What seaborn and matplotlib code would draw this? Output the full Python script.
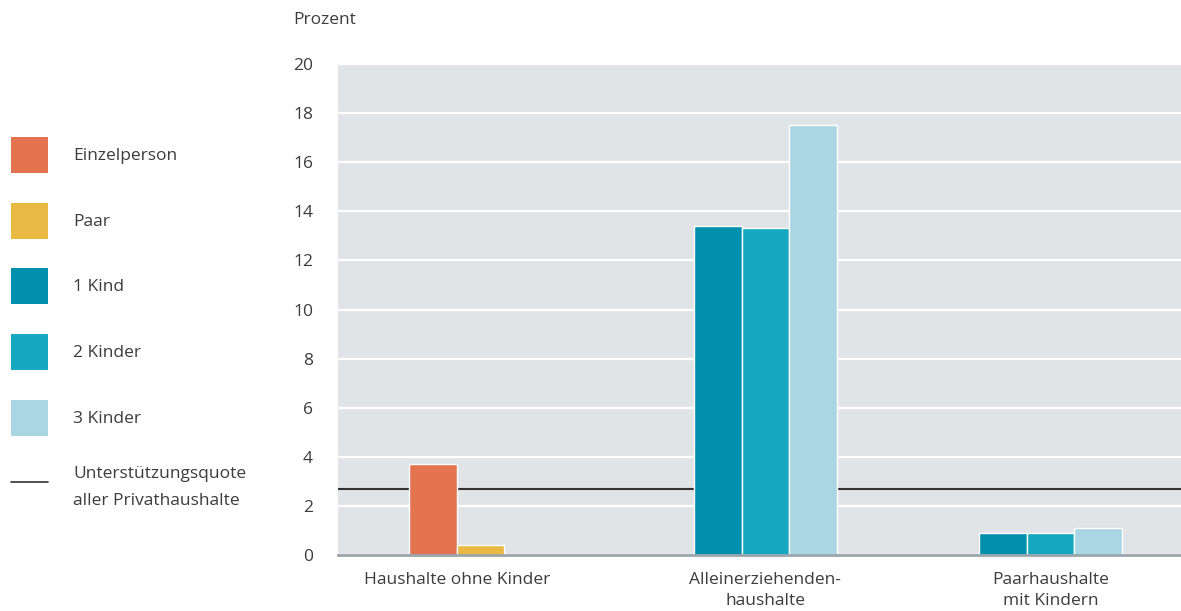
import numpy as np
import pandas as pd
import matplotlib
matplotlib.use("Agg")
import matplotlib.pyplot as plt
from matplotlib.patches import Patch
from matplotlib.lines import Line2D
import seaborn as sns

# Household groups (x axis) and their bar series
groups = ["Haushalte ohne Kinder", "Alleinerziehenden-\nhaushalte", "Paarhaushalte\nmit Kindern"]
series_no_children = ["Einzelperson", "Paar"]
series_children = ["1 Kind", "2 Kinder", "3 Kinder"]

values_no_children = [3.7, 0.4]
values_single_parent = [13.4, 13.3, 17.5]
values_couple_parent = [0.9, 0.9, 1.1]

overall_rate = 2.7
overall_label = "Unterstützungsquote\naller Privathaushalte"

series_colors = {
    "Einzelperson": "#e4744f",
    "Paar": "#e9b943",
    "1 Kind": "#0090ae",
    "2 Kinder": "#16a7c1",
    "3 Kinder": "#a9d6e2",
}

yticks = [0, 2, 4, 6, 8, 10, 12, 14, 16, 18, 20]

# Long-form table: each bar takes a slot inside its group
rows = []
for s, (name, v) in enumerate(zip(series_no_children, values_no_children)):
    rows.append((groups[0], str(s), name, v))
for g, vals in ((groups[1], values_single_parent), (groups[2], values_couple_parent)):
    for s, (name, v) in enumerate(zip(series_children, vals)):
        rows.append((g, str(s), name, v))
df = pd.DataFrame(rows, columns=["group", "slot", "series", "value"])
slots = ["0", "1", "2"]

sns.set_theme(style="white")
plt.rcParams["font.family"] = ["Open Sans", "DejaVu Sans"]
text_color = "#3c3c3c"
fs = 12.5

fig = plt.figure(figsize=(11.81, 6.11), dpi=100)
ax = fig.add_axes([338 / 1181, 1 - 555 / 611, 1 - 338 / 1181, (555 - 64) / 611])
ax.set_facecolor("#e1e4e7")

sns.barplot(data=df, x="group", y="value", hue="slot", order=groups,
            hue_order=slots, dodge=True, width=0.5, legend=False,
            edgecolor="white", linewidth=1.0, saturation=1, ax=ax, zorder=3)

# Colour each bar by its series
for slot, container in zip(slots, ax.containers):
    sub = df[df["slot"] == slot].set_index("group").reindex(groups).dropna()
    for bar, name in zip(container, sub["series"]):
        bar.set_facecolor(series_colors[name])

ax.axhline(overall_rate, color="#333333", lw=1.5, zorder=2)

ax.set_ylim(0, 20)
ax.set_xlim(-0.5, 2.458)
ax.set_yticks(yticks)
ax.set_yticklabels([str(t) for t in yticks])
ax.yaxis.grid(True, color="white", lw=1.6, zorder=0)
ax.set_axisbelow(True)

# Group labels centred under the bars actually present in each group
centers = {}
for container in ax.containers:
    for bar in container:
        if np.isnan(bar.get_height()):
            continue
        gi = int(round(bar.get_x() + bar.get_width() / 2))
        centers.setdefault(gi, []).append(bar.get_x() + bar.get_width() / 2)
label_pos = [np.mean(centers[i]) for i in range(len(groups))]
ax.set_xticks(label_pos)
ax.set_xticklabels(groups, linespacing=1.45)

ax.set_xlabel("")
ax.set_ylabel("")
ax.tick_params(axis="both", length=0, labelsize=fs, colors=text_color)
ax.tick_params(axis="y", pad=18)
ax.tick_params(axis="x", pad=12)

for side in ["top", "right", "left"]:
    ax.spines[side].set_visible(False)
ax.spines["bottom"].set_color("#9aa5ad")
ax.spines["bottom"].set_linewidth(2)
ax.spines["bottom"].set_zorder(4)

fig.text(293 / 1181, 1 - 20 / 611, "Prozent", fontsize=fs, color=text_color,
         va="center", ha="left")

handles = [Patch(facecolor=series_colors[n], edgecolor="none") for n in series_colors]
handles.append(Line2D([0], [0], color="#333333", lw=1.2))
labels = list(series_colors) + [overall_label]
leg = fig.legend(handles, labels, loc="upper left",
                 bbox_to_anchor=(4 / 1181, 1 - 130 / 611), frameon=False,
                 fontsize=fs, handlelength=2.15, handleheight=2.8,
                 handletextpad=1.45, labelspacing=1.72, borderaxespad=0)
for t in leg.get_texts():
    t.set_color(text_color)
leg.get_texts()[-1].set_linespacing(1.95)

fig.savefig("out.png", dpi=100)
